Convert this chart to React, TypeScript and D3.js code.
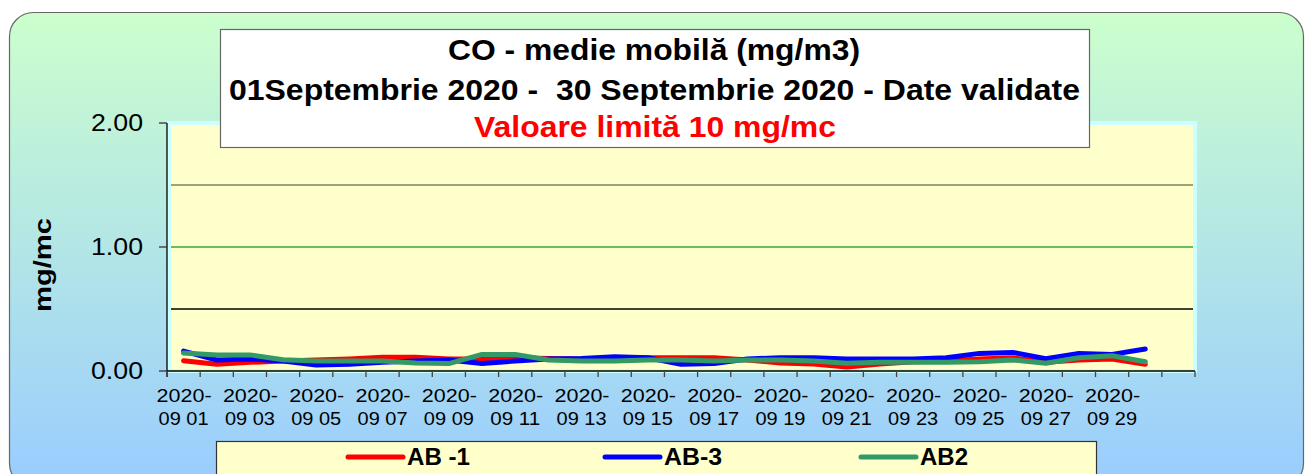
import React from 'react';
import * as d3 from 'd3';

// zile (categorii) - a 31-a categorie ramane goala
const days = d3.range(1, 32).map(d => `2020-09 ${String(d).padStart(2, '0')}`);

const ab1 = [0.083, 0.054, 0.07, 0.08, 0.089, 0.097, 0.11, 0.11, 0.097, 0.097,
  0.107, 0.1, 0.097, 0.1, 0.107, 0.107, 0.107, 0.089, 0.065, 0.056,
  0.032, 0.056, 0.075, 0.08, 0.097, 0.107, 0.07, 0.089, 0.097, 0.054];
const ab3 = [0.16, 0.089, 0.097, 0.08, 0.048, 0.054, 0.07, 0.08, 0.089, 0.06,
  0.08, 0.097, 0.1, 0.115, 0.107, 0.054, 0.06, 0.097, 0.107, 0.107,
  0.097, 0.097, 0.097, 0.107, 0.142, 0.15, 0.1, 0.142, 0.134, 0.177];
const ab2 = [0.145, 0.129, 0.13, 0.09, 0.08, 0.08, 0.08, 0.065, 0.06, 0.134,
  0.134, 0.089, 0.08, 0.08, 0.089, 0.089, 0.08, 0.089, 0.089, 0.08,
  0.062, 0.07, 0.07, 0.07, 0.075, 0.089, 0.062, 0.107, 0.123, 0.075];

const yTicks = [0, 1, 2];
const gridLines = [
  { v: 0.5, color: '#000000' },
  { v: 1.0, color: '#33aa33' },
  { v: 1.5, color: '#808060' },
];

const series = [
  { name: 'AB -1', values: ab1, color: '#ff0000' },
  { name: 'AB-3', values: ab3, color: '#0000ff' },
  { name: 'AB2', values: ab2, color: '#339966' },
];

const font = '"Liberation Sans", Arial, sans-serif';

export default function App() {
  const width = 1305;
  const height = 474;
  const left = 167, right = 1195, top = 123, bottom = 371;

  const x = d3.scaleBand<string>().domain(days).range([left, right]).padding(0);
  const y = d3.scaleLinear().domain([0, 2]).range([bottom, top]);
  const cx = (i: number) => (x(days[i]) as number) + x.bandwidth() / 2;

  const line = d3.line<number>()
    .x((_, i) => cx(i))
    .y(d => y(d));

  const boundaries = d3.range(days.length + 1).map(i => left + i * x.bandwidth());
  const legendX = [348, 605, 861];
  const legendW = [63, 58, 48];

  return (
    <svg width={width} height={height} style={{ position: 'absolute', left: 0, top: 0 }}>
      <defs>
        <linearGradient id="bg" x1="0" y1="0" x2="0" y2="1">
          <stop offset="0" stopColor="#ccffcc" />
          <stop offset="1" stopColor="#99ccff" />
        </linearGradient>
      </defs>
      <rect width={width} height={height} fill="#ffffff" />
      <rect x={9.5} y={12.5} width={1294} height={475} rx={24} fill="url(#bg)" stroke="#666666" strokeWidth={1.2} />

      {/* plot area */}
      <rect x={169} y={123} width={1026} height={248} fill="#ffffcc" stroke="#ccffff" strokeWidth={4} />
      {gridLines.map(g => (
        <line key={g.v} x1={171} x2={1193} y1={y(g.v)} y2={y(g.v)} stroke={g.color} strokeWidth={1.3} />
      ))}

      {/* y axis */}
      <line x1={left} x2={left} y1={top} y2={bottom + 6} stroke="#000" strokeWidth={1.3} />
      {yTicks.map(t => (
        <g key={t}>
          <line x1={left - 8} x2={left} y1={y(t)} y2={y(t)} stroke="#333" strokeWidth={1.3} />
          <text x={143} y={y(t) + 8} textAnchor="end" fontFamily={font} fontSize={24} fill="#000"
            textLength={52} lengthAdjust="spacingAndGlyphs">
            {t.toFixed(2)}
          </text>
        </g>
      ))}
      <text transform={`translate(51,265) rotate(-90)`} textAnchor="middle" fontFamily={font} fontSize={24} fontWeight="bold"
        textLength={94} lengthAdjust="spacingAndGlyphs">mg/mc</text>

      {/* x axis */}
      <line x1={left} x2={right} y1={bottom} y2={bottom} stroke="#000" strokeWidth={1.3} />
      {boundaries.map((b, i) => (
        <line key={i} x1={b} x2={b} y1={bottom} y2={bottom + 6} stroke="#444" strokeWidth={1.3} />
      ))}
      {days.slice(0, 30).map((d, i) => i % 2 === 0 ? (
        <g key={d}>
          <text x={cx(i) - 27} y={402} fontFamily={font} fontSize={19} fill="#000"
            textLength={55} lengthAdjust="spacingAndGlyphs">{d.slice(0, 5)}</text>
          <text x={cx(i) - 25} y={425} fontFamily={font} fontSize={19} fill="#000" style={{ whiteSpace: 'pre' }}
            textLength={50} lengthAdjust="spacingAndGlyphs">{d.slice(5)}</text>
        </g>
      ) : null)}

      {/* series */}
      {series.map(s => (
        <path key={s.name} d={line(s.values) || ''} fill="none" stroke={s.color} strokeWidth={5} strokeLinejoin="round" strokeLinecap="round" />
      ))}

      {/* title */}
      <rect x={220.5} y={29.5} width={869} height={118} fill="#ffffff" stroke="#666666" strokeWidth={1.2} />
      <text x={448} y={60} fontFamily={font} fontSize={30} fontWeight="bold"
        textLength={412} lengthAdjust="spacingAndGlyphs">CO - medie mobilă (mg/m3)</text>
      <text x={229} y={100} fontFamily={font} fontSize={30} fontWeight="bold" style={{ whiteSpace: 'pre' }}
        textLength={851} lengthAdjust="spacingAndGlyphs">01Septembrie 2020 -  30 Septembrie 2020 - Date validate</text>
      <text x={474} y={137} fontFamily={font} fontSize={30} fontWeight="bold" fill="#ff0000"
        textLength={362} lengthAdjust="spacingAndGlyphs">Valoare limită 10 mg/mc</text>

      {/* legend */}
      <rect x={216.5} y={441.5} width={880} height={40} fill="#ffffcc" stroke="#333" strokeWidth={1.2} />
      {series.map((s, i) => (
        <g key={s.name}>
          <line x1={legendX[i]} x2={legendX[i] + 55} y1={457} y2={457} stroke={s.color} strokeWidth={5} strokeLinecap="round" />
          <text x={legendX[i] + 59} y={465} fontFamily={font} fontSize={23} fontWeight="bold" style={{ whiteSpace: 'pre' }}
            textLength={legendW[i]} lengthAdjust="spacingAndGlyphs">{s.name}</text>
        </g>
      ))}
    </svg>
  );
}
